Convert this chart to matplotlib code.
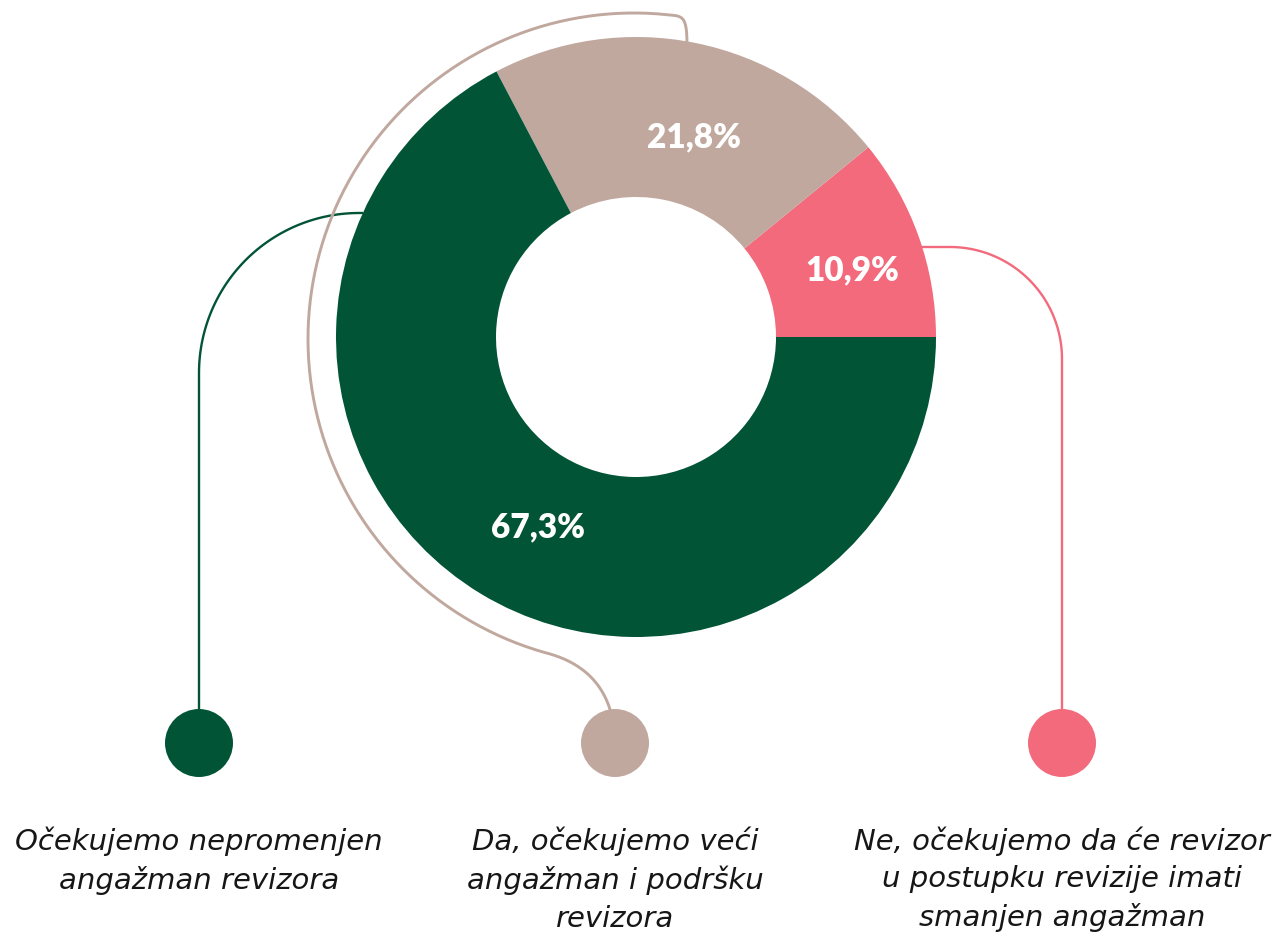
import numpy as np
import matplotlib.pyplot as plt
from matplotlib.patches import Circle

# data (counter-clockwise from 3 o'clock)
labels = ["Ne, očekujemo da će revizor\nu postupku revizije imati\nsmanjen angažman",
          "Da, očekujemo veći\nangažman i podršku\nrevizora",
          "Očekujemo nepromenjen\nangažman revizora"]
values = [10.9, 21.8, 67.3]
colors = ["#F26A7B", "#C0A89E", "#025437"]
pct_text = ["10,9%", "21,8%", "67,3%"]

W, H = 1279, 933
fig = plt.figure(figsize=(W / 100, H / 100), dpi=100)
ax = fig.add_axes([0, 0, 1, 1])


def P(x, y):
    # pixel coords (y down) -> data coords
    return np.asarray(x, float), H - np.asarray(y, float)


cx, cy = 636, 337
wedges, _ = ax.pie(values, colors=colors, startangle=0, counterclock=True,
                   radius=300, center=P(cx, cy), frame=True,
                   wedgeprops=dict(width=160, linewidth=0, zorder=3))
ax.set_xlim(0, W)
ax.set_ylim(0, H)
ax.axis('off')

# percentage labels
shift = [-2.4, -4.7, 3.8]
rad = [226, 208, 214]
for w, t, s, r in zip(wedges, pct_text, shift, rad):
    a = np.radians((w.theta1 + w.theta2) / 2 + s)
    x, y = cx + r * np.cos(a), cy - r * np.sin(a)
    ax.text(*P(x, y), t, color="white", fontsize=24, fontweight="heavy",
            family="Lato", ha="center", va="center", zorder=5)

lw = 1.7
# green connector
t = np.linspace(0, np.pi / 2, 60)
gx = np.concatenate([[363], 359 - 160 * np.sin(t), [199]])
gy = np.concatenate([[213], 373 - 160 * np.cos(t), [743]])
ax.plot(*P(gx, gy), color=colors[2], lw=lw, zorder=1, solid_capstyle="butt")

# pink connector
t = np.linspace(0, np.pi / 2, 60)
px = np.concatenate([[915], 950 + 112 * np.sin(t), [1062]])
py = np.concatenate([[247], 359 - 112 * np.cos(t), [743]])
ax.plot(*P(px, py), color=colors[0], lw=lw, zorder=1, solid_capstyle="butt")


def bez(p0, p1, p2, p3, n=40):
    s = np.linspace(0, 1, n)[:, None]
    p0, p1, p2, p3 = map(np.array, (p0, p1, p2, p3))
    return ((1 - s) ** 3 * p0 + 3 * (1 - s) ** 2 * s * p1
            + 3 * (1 - s) * s ** 2 * p2 + s ** 3 * p3)


# beige connector: hook at top, wide arc round the ring, s-bend to marker
phi = np.radians(np.linspace(-83.3, -254, 200))
arc = np.column_stack([634 + 326 * np.cos(phi), 339 + 326 * np.sin(phi)])
top = bez((687, 45), (687, 20), (684, 16), arc[0])
bot = bez(arc[-1], (575, 660), (614, 680), (615, 743))
b = np.vstack([top, arc, bot])
ax.plot(*P(b[:, 0], b[:, 1]), color=colors[1], lw=lw + 0.4, zorder=1,
        solid_capstyle="butt")

# markers and texts
mx = [1062, 615, 199]
for x, c, lab in zip(mx, colors, labels):
    ax.add_patch(Circle(P(x, 743), 34, color=c, zorder=4, lw=0))
    ax.text(*P(x, 826), lab, ha="center", va="top", fontsize=21,
            family="DejaVu Sans", style="italic",
            color="#161616", linespacing=1.44)

fig.savefig("out.png", dpi=100)
